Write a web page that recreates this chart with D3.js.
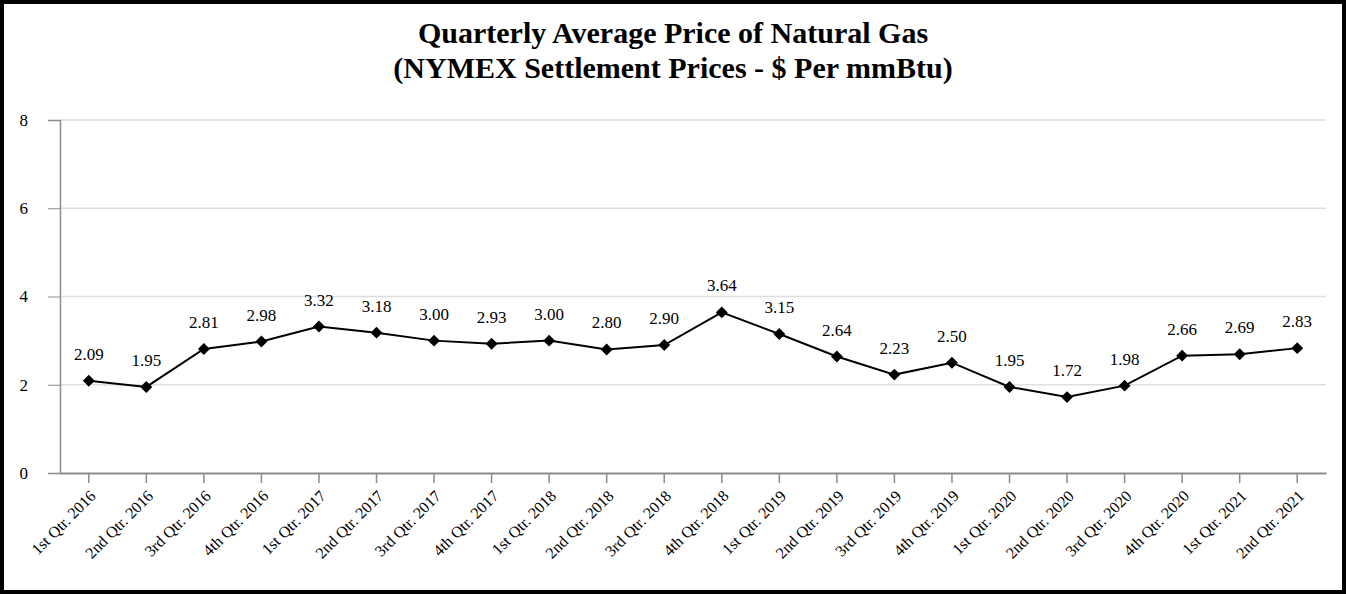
<!DOCTYPE html>
<html>
<head>
<meta charset="utf-8">
<script src="https://cdn.jsdelivr.net/npm/d3@7"></script>
<style>
  body { margin: 0; background: #fff; }
  svg { display: block; font-family: "Liberation Serif", "Times New Roman", serif; }
  .axis path, .axis line { stroke: #8c8c8c; }
  .axis text { fill: #000; font-size: 16px; font-family: "Liberation Serif", serif; }
</style>
</head>
<body>
<svg id="chart" width="1346" height="594"></svg>
<script>
const quarters = [
  "1st Qtr. 2016", "2nd Qtr. 2016", "3rd Qtr. 2016", "4th Qtr. 2016",
  "1st Qtr. 2017", "2nd Qtr. 2017", "3rd Qtr. 2017", "4th Qtr. 2017",
  "1st Qtr. 2018", "2nd Qtr. 2018", "3rd Qtr. 2018", "4th Qtr. 2018",
  "1st Qtr. 2019", "2nd Qtr. 2019", "3rd Qtr. 2019", "4th Qtr. 2019",
  "1st Qtr. 2020", "2nd Qtr. 2020", "3rd Qtr. 2020", "4th Qtr. 2020",
  "1st Qtr. 2021", "2nd Qtr. 2021"
];
const prices = [
  2.09, 1.95, 2.81, 2.98, 3.32, 3.18, 3.00, 2.93, 3.00, 2.80, 2.90,
  3.64, 3.15, 2.64, 2.23, 2.50, 1.95, 1.72, 1.98, 2.66, 2.69, 2.83
];
const yTicks = [0, 2, 4, 6, 8];

const svg = d3.select("#chart");
const width = +svg.attr("width");
const height = +svg.attr("height");
const margin = { top: 120, right: 20, bottom: 121, left: 60 };

// outer frame
svg.append("rect")
  .attr("x", 2).attr("y", 2)
  .attr("width", width - 4).attr("height", height - 4)
  .attr("fill", "#fff").attr("stroke", "#000").attr("stroke-width", 4);

// title
svg.append("text")
  .attr("x", width / 2).attr("y", 43)
  .attr("text-anchor", "middle")
  .style("font-size", "30px").style("font-weight", "bold")
  .text("Quarterly Average Price of Natural Gas");
svg.append("text")
  .attr("x", width / 2).attr("y", 78)
  .attr("text-anchor", "middle")
  .style("font-size", "30px").style("font-weight", "bold")
  .text("(NYMEX Settlement Prices - $ Per mmBtu)");

const x = d3.scaleBand()
  .domain(quarters)
  .range([margin.left, width - margin.right]);

const y = d3.scaleLinear()
  .domain([0, 8])
  .range([height - margin.bottom, margin.top]);

// gridlines
svg.append("g")
  .selectAll("line")
  .data(yTicks.slice(1))
  .join("line")
  .attr("x1", margin.left).attr("x2", width - margin.right)
  .attr("y1", d => y(d)).attr("y2", d => y(d))
  .attr("stroke", "#dedede").attr("stroke-width", 1.5);

// y axis
const yAxis = svg.append("g")
  .attr("class", "axis")
  .attr("transform", `translate(${margin.left},0)`)
  .call(d3.axisLeft(y).tickValues(yTicks).tickSize(12).tickPadding(20));
yAxis.select(".domain").attr("stroke-width", 1.5);
yAxis.selectAll("text").style("font-size", "17px");

// x axis
const xAxis = svg.append("g")
  .attr("class", "axis")
  .attr("transform", `translate(0,${y(0)})`)
  .call(d3.axisBottom(x).tickSize(10).tickSizeOuter(0));
xAxis.select(".domain").attr("stroke-width", 2);
xAxis.selectAll(".tick line").attr("stroke-width", 1.5);
xAxis.selectAll("text")
  .attr("text-anchor", "end")
  .attr("x", 0).attr("y", 0)
  .attr("dx", 0)
  .attr("dy", "0.35em")
  .attr("transform", "translate(4,20) rotate(-45)");

// line
const line = d3.line()
  .x((d, i) => x(quarters[i]) + x.bandwidth() / 2)
  .y(d => y(d));

svg.append("path")
  .datum(prices)
  .attr("fill", "none")
  .attr("stroke", "#000")
  .attr("stroke-width", 2)
  .attr("d", line);

// markers
svg.append("g")
  .selectAll("path")
  .data(prices)
  .join("path")
  .attr("d", d3.symbol().type(d3.symbolDiamond2).size(90))
  .attr("transform", (d, i) => `translate(${x(quarters[i]) + x.bandwidth() / 2},${y(d)})`)
  .attr("fill", "#000");

// value labels
svg.append("g")
  .selectAll("text")
  .data(prices)
  .join("text")
  .attr("x", (d, i) => x(quarters[i]) + x.bandwidth() / 2)
  .attr("y", d => y(d) - 21)
  .attr("text-anchor", "middle")
  .style("font-size", "17px")
  .text(d => d.toFixed(2));
</script>
</body>
</html>
